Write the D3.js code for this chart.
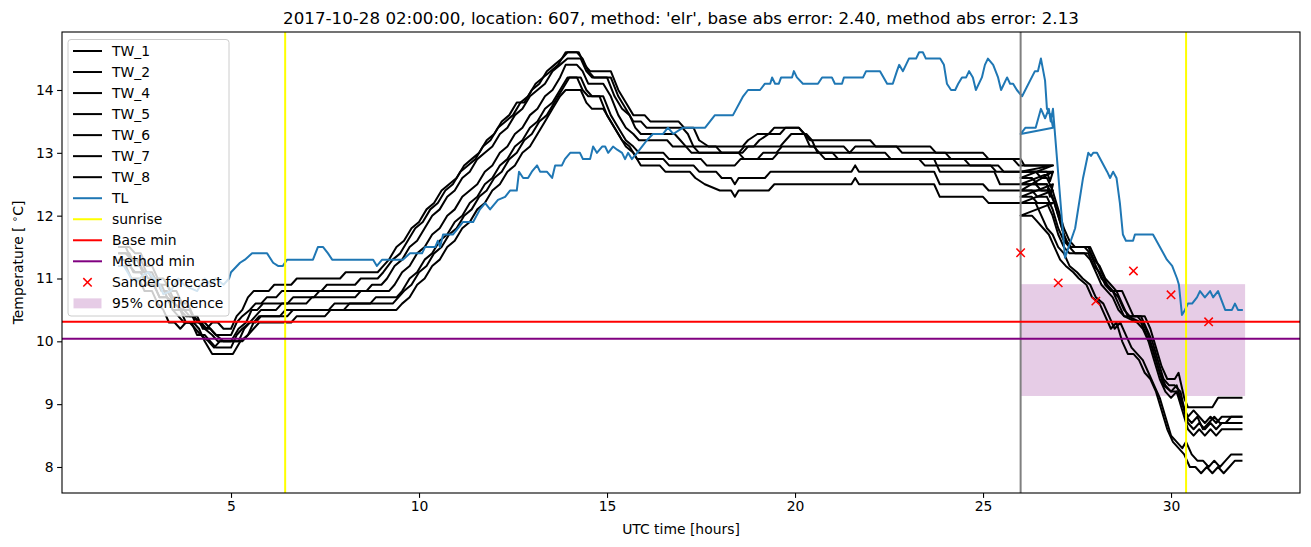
<!DOCTYPE html>
<html><head><meta charset="utf-8">
<script src="https://cdn.jsdelivr.net/npm/d3@7"></script>
<style>body{margin:0;background:#fff}svg{display:block;font-family:"DejaVu Sans",sans-serif}</style>
</head><body><div id="chart"></div>
<script>
// ---------------- data ----------------
const titleText = "2017-10-28 02:00:00, location: 607, method: 'elr', base abs error: 2.40, method abs error: 2.13";
const xTicks = [5, 10, 15, 20, 25, 30];
const yTicks = [8, 9, 10, 11, 12, 13, 14];
const legendLabels = ["TW_1","TW_2","TW_4","TW_5","TW_6","TW_7","TW_8","TL","sunrise","Base min","Method min","Sander forecast","95% confidence"];
const sunriseHours = [6.44, 30.40];
const forecastStart = 26.0;
const baseMin = 10.31;
const methodMin = 10.04;
const sanderHours = [26, 27, 28, 29, 30, 31];
const sanderValues = [11.41, 10.93, 10.64, 11.12, 10.74, 10.31];
const confHours = [26.0, 31.97];
const confRange = [9.13, 10.91];

const TW_1 = [[2.0,11.5],[2.2,11.5],[2.35,11.3],[2.5,11.3],[2.65,11.1],[2.8,11.1],[3.0,10.9],[3.15,10.9],[3.3,10.7],[3.5,10.6],[3.7,10.5],[3.9,10.5],[4.05,10.3],[4.2,10.3],[4.35,10.2],[4.5,10.3],[4.65,10.3],[4.8,10.2],[5.0,10.2],[5.15,10.4],[5.3,10.5],[5.45,10.7],[5.6,10.8],[6.0,10.8],[6.15,10.9],[6.6,10.9],[6.75,11.0],[7.9,11.0],[8.05,11.1],[8.9,11.1],[9.05,11.2],[9.2,11.3],[9.4,11.5],[9.6,11.6],[9.8,11.8],[10.0,11.9],[10.2,12.1],[10.4,12.2],[10.6,12.4],[10.8,12.5],[11.0,12.6],[11.2,12.8],[11.4,12.9],[11.6,13.0],[11.8,13.2],[12.0,13.3],[12.2,13.5],[12.4,13.6],[12.6,13.8],[12.8,13.8],[13.0,14.0],[13.2,14.1],[13.4,14.3],[13.6,14.4],[13.8,14.5],[13.95,14.6],[14.25,14.6],[14.4,14.4],[14.55,14.3],[15.1,14.3],[15.3,14.0],[15.5,13.8],[15.7,13.6],[16.0,13.6],[16.15,13.5],[16.9,13.5],[17.05,13.4],[17.3,13.4],[17.45,13.2],[17.7,13.1],[18.6,13.1],[18.75,13.2],[19.0,13.3],[19.6,13.3],[19.75,13.4],[20.1,13.4],[20.25,13.3],[20.4,13.2],[22.0,13.2],[22.15,13.1],[23.6,13.1],[23.75,13.0],[25.0,13.0],[25.15,12.9],[26.0,12.9],[26.1,12.8],[26.86,12.8],
 [26.0,12.7],[26.4,12.7],[26.55,12.6],[26.7,12.6],[26.85,12.4],[27.0,12.1],[27.15,11.8],[27.3,11.6],[27.45,11.5],[27.8,11.5],[27.95,11.3],[28.1,11.2],[28.25,11.0],[28.4,10.9],[28.55,10.8],[28.7,10.8],[28.85,10.6],[29.0,10.4],[29.3,10.4],[29.45,10.2],[29.6,9.9],[29.75,9.6],[29.9,9.4],[30.1,9.4],[30.2,9.5],[30.35,9.1],[30.45,8.95],[31.1,8.95],[31.25,9.1],[31.9,9.1]];
const TW_2 = [[2.0,11.5],[2.3,11.5],[2.45,11.4],[2.6,11.4],[2.75,11.2],[2.9,11.2],[3.05,11.0],[3.2,11.0],[3.4,10.8],[3.55,10.8],[3.7,10.6],[3.85,10.6],[4.0,10.4],[4.15,10.3],[4.3,10.3],[4.45,10.2],[4.6,10.1],[5.0,10.1],[5.15,10.3],[5.3,10.4],[5.5,10.5],[5.65,10.6],[5.8,10.6],[5.95,10.7],[6.2,10.7],[6.35,10.8],[7.4,10.8],[7.55,10.9],[8.3,10.9],[8.45,11.0],[8.9,11.0],[9.05,11.1],[9.3,11.3],[9.5,11.4],[9.7,11.6],[9.9,11.8],[10.1,11.9],[10.3,12.1],[10.5,12.2],[10.7,12.4],[10.9,12.5],[11.1,12.7],[11.3,12.8],[11.5,12.9],[11.7,13.1],[11.9,13.2],[12.1,13.4],[12.3,13.5],[12.5,13.6],[12.7,13.8],[12.9,13.9],[13.1,14.1],[13.3,14.2],[13.5,14.3],[13.7,14.4],[13.9,14.6],[14.2,14.6],[14.35,14.5],[14.5,14.3],[14.65,14.2],[15.1,14.2],[15.3,13.9],[15.5,13.7],[15.7,13.5],[15.9,13.5],[16.05,13.4],[17.0,13.4],[17.15,13.3],[17.3,13.1],[17.45,13.0],[18.5,13.0],[18.65,13.1],[18.9,13.1],[19.05,13.2],[19.3,13.3],[19.45,13.4],[20.1,13.4],[20.25,13.3],[20.4,13.1],[21.3,13.1],[21.45,13.0],[21.6,13.1],[22.7,13.1],[22.85,13.0],[24.0,13.0],[24.15,12.9],[25.8,12.9],[25.95,12.8],[26.86,12.8],
 [26.0,12.6],[26.3,12.6],[26.45,12.5],[26.7,12.5],[26.85,12.3],[27.0,12.0],[27.15,11.7],[27.3,11.5],[27.45,11.4],[27.8,11.4],[27.95,11.2],[28.1,11.1],[28.25,10.9],[28.4,10.8],[28.55,10.8],[28.7,10.6],[28.85,10.4],[29.2,10.3],[29.35,10.1],[29.5,9.9],[29.65,9.6],[29.8,9.3],[30.0,9.2],[30.15,9.3],[30.3,9.0],[30.45,8.8],[30.6,8.9],[30.75,8.8],[30.9,8.7],[31.05,8.8],[31.2,8.7],[31.35,8.8],[31.9,8.8]];
const TW_4 = [[2.0,11.4],[2.3,11.4],[2.45,11.2],[2.6,11.2],[2.8,11.0],[3.0,11.0],[3.15,10.8],[3.3,10.8],[3.5,10.6],[3.65,10.5],[3.8,10.4],[4.0,10.4],[4.15,10.3],[4.3,10.2],[4.5,10.1],[4.65,10.0],[5.0,10.0],[5.2,10.2],[5.4,10.3],[5.55,10.5],[5.7,10.5],[5.85,10.6],[6.5,10.6],[6.65,10.7],[7.2,10.7],[7.35,10.8],[8.6,10.8],[8.75,10.9],[9.0,10.9],[9.15,11.0],[9.35,11.2],[9.55,11.3],[9.75,11.5],[9.95,11.6],[10.15,11.8],[10.35,12.0],[10.55,12.1],[10.75,12.3],[10.95,12.4],[11.15,12.6],[11.35,12.7],[11.55,12.9],[11.75,13.0],[11.95,13.1],[12.15,13.3],[12.35,13.4],[12.55,13.6],[12.75,13.7],[12.95,13.9],[13.15,14.0],[13.35,14.1],[13.55,14.3],[13.75,14.4],[13.95,14.5],[14.3,14.5],[14.45,14.3],[14.6,14.2],[15.0,14.2],[15.2,13.9],[15.4,13.7],[15.6,13.6],[15.75,13.4],[15.9,13.3],[16.8,13.3],[16.95,13.2],[17.1,13.1],[17.25,13.0],[18.6,13.0],[18.75,13.1],[19.6,13.1],[19.75,13.2],[19.9,13.3],[20.3,13.3],[20.45,13.2],[20.6,13.0],[22.4,13.0],[22.55,12.9],[24.5,12.9],[24.65,12.8],[25.4,12.8],[25.55,12.7],[26.7,12.7],[26.78,12.55],[26.86,12.7],
 [26.0,12.5],[26.4,12.5],[26.55,12.4],[26.75,12.4],[26.9,12.2],[27.05,11.9],[27.2,11.6],[27.35,11.5],[27.85,11.5],[28.0,11.3],[28.15,11.1],[28.3,10.9],[28.45,10.8],[28.6,10.7],[28.75,10.5],[28.9,10.4],[29.2,10.4],[29.35,10.2],[29.5,10.0],[29.65,9.7],[29.8,9.4],[29.95,9.3],[30.1,9.3],[30.25,9.2],[30.4,8.8],[30.55,8.7],[30.7,8.8],[30.85,8.6],[31.0,8.7],[31.15,8.8],[31.3,8.7],[31.45,8.7],[31.6,8.8],[31.9,8.8]];
const TW_5 = [[2.0,11.4],[2.2,11.4],[2.35,11.3],[2.6,11.3],[2.75,11.1],[2.9,11.1],[3.05,10.9],[3.3,10.9],[3.45,10.7],[3.6,10.7],[3.75,10.5],[3.9,10.4],[4.1,10.4],[4.25,10.2],[4.45,10.2],[4.6,10.1],[4.8,10.0],[5.2,10.0],[5.35,10.2],[5.5,10.3],[5.65,10.4],[5.8,10.5],[6.2,10.5],[6.35,10.6],[7.0,10.6],[7.15,10.7],[8.3,10.7],[8.45,10.8],[9.2,10.8],[9.35,10.9],[9.55,11.1],[9.75,11.2],[9.95,11.4],[10.15,11.5],[10.35,11.7],[10.55,11.8],[10.75,12.0],[10.95,12.1],[11.15,12.3],[11.35,12.4],[11.55,12.5],[11.75,12.7],[11.95,12.8],[12.15,13.0],[12.35,13.1],[12.55,13.3],[12.75,13.4],[12.95,13.6],[13.15,13.7],[13.35,13.9],[13.55,14.0],[13.75,14.2],[13.9,14.4],[14.2,14.4],[14.35,14.3],[14.5,14.1],[14.9,14.1],[15.1,13.9],[15.3,13.6],[15.5,13.4],[15.7,13.3],[15.85,13.2],[16.6,13.2],[16.75,13.1],[17.9,13.1],[18.05,13.0],[18.5,13.0],[18.65,12.9],[19.0,12.9],[19.15,13.0],[19.5,13.0],[19.65,13.1],[20.5,13.1],[20.65,13.0],[20.8,12.9],[23.3,12.9],[23.45,12.8],[25.2,12.8],[25.35,12.7],[26.86,12.7],
 [26.0,12.4],[26.3,12.4],[26.45,12.3],[26.7,12.3],[26.85,12.1],[27.0,11.8],[27.15,11.6],[27.3,11.5],[27.7,11.5],[27.85,11.4],[28.0,11.2],[28.15,11.0],[28.3,10.9],[28.45,10.8],[28.6,10.6],[28.75,10.4],[29.1,10.4],[29.25,10.3],[29.4,10.1],[29.55,9.8],[29.7,9.5],[29.85,9.3],[30.0,9.2],[30.15,9.2],[30.3,9.0],[30.45,8.7],[30.6,8.6],[30.75,8.7],[30.9,8.6],[31.05,8.7],[31.2,8.6],[31.35,8.7],[31.9,8.7]];
const TW_6 = [[2.0,11.3],[2.25,11.3],[2.4,11.1],[2.6,11.1],[2.75,10.9],[2.95,10.9],[3.1,10.7],[3.3,10.7],[3.45,10.5],[3.6,10.4],[3.75,10.3],[3.9,10.3],[4.05,10.2],[4.2,10.1],[4.4,10.0],[4.55,9.9],[4.7,10.0],[5.3,10.0],[5.45,10.1],[5.6,10.3],[5.75,10.4],[6.3,10.4],[6.45,10.5],[7.6,10.5],[7.75,10.6],[8.7,10.6],[8.85,10.7],[9.4,10.7],[9.55,10.8],[9.75,11.0],[9.95,11.1],[10.15,11.3],[10.35,11.4],[10.55,11.6],[10.75,11.7],[10.95,11.9],[11.15,12.0],[11.35,12.2],[11.55,12.3],[11.75,12.5],[11.95,12.6],[12.15,12.8],[12.35,12.9],[12.55,13.1],[12.75,13.2],[12.95,13.4],[13.15,13.5],[13.35,13.7],[13.55,13.8],[13.75,14.0],[13.95,14.2],[14.3,14.2],[14.45,14.0],[14.6,13.9],[14.9,13.9],[15.1,13.6],[15.3,13.4],[15.5,13.2],[15.7,13.1],[15.85,13.0],[16.5,13.0],[16.65,12.9],[17.5,12.9],[17.65,12.8],[18.4,12.8],[18.55,12.9],[19.4,12.9],[19.55,13.0],[21.0,13.0],[21.15,12.9],[23.7,12.9],[23.85,12.7],[25.3,12.7],[25.45,12.5],[26.7,12.5],[26.78,12.3],[26.86,12.5],
 [26.0,12.3],[26.3,12.3],[26.45,12.2],[26.7,12.2],[26.85,12.0],[27.0,11.7],[27.15,11.5],[27.3,11.4],[27.7,11.4],[27.85,11.3],[28.0,11.1],[28.15,10.9],[28.3,10.8],[28.45,10.7],[28.6,10.5],[28.75,10.4],[29.1,10.3],[29.25,10.2],[29.4,10.0],[29.55,9.7],[29.7,9.4],[29.85,9.2],[30.0,9.1],[30.15,9.2],[30.3,8.9],[30.45,8.6],[30.6,8.5],[30.75,8.6],[30.9,8.5],[31.05,8.6],[31.2,8.5],[31.35,8.6],[31.9,8.6]];
const TW_7 = [[2.0,11.2],[2.2,11.2],[2.35,11.0],[2.55,11.0],[2.7,10.8],[2.9,10.8],[3.05,10.6],[3.2,10.5],[3.35,10.3],[3.5,10.3],[3.65,10.2],[3.8,10.3],[3.95,10.3],[4.1,10.1],[4.3,10.1],[4.45,10.0],[4.6,9.9],[5.0,9.9],[5.15,10.1],[5.3,10.2],[5.5,10.3],[5.65,10.3],[5.8,10.4],[6.5,10.4],[6.65,10.5],[8.0,10.5],[8.15,10.6],[9.3,10.6],[9.45,10.7],[9.6,10.8],[9.8,10.9],[10.0,11.1],[10.2,11.2],[10.4,11.4],[10.6,11.5],[10.8,11.7],[11.0,11.8],[11.2,12.0],[11.4,12.1],[11.6,12.3],[11.8,12.4],[12.0,12.6],[12.2,12.7],[12.4,12.9],[12.6,13.0],[12.8,13.2],[13.0,13.3],[13.2,13.5],[13.4,13.6],[13.6,13.8],[13.8,14.0],[14.0,14.2],[14.2,14.2],[14.35,14.0],[14.5,13.9],[14.8,13.9],[15.0,13.6],[15.2,13.4],[15.4,13.2],[15.6,13.1],[15.8,12.9],[16.5,12.9],[16.65,12.8],[17.3,12.8],[17.45,12.7],[17.9,12.7],[18.05,12.6],[18.3,12.6],[18.4,12.5],[18.5,12.6],[19.2,12.6],[19.35,12.7],[21.5,12.7],[21.6,12.8],[21.7,12.7],[23.7,12.7],[23.85,12.5],[25.0,12.5],[25.15,12.4],[26.86,12.4],
 [26.0,12.2],[26.4,12.2],[26.55,12.0],[26.7,11.8],[26.85,11.7],[27.0,11.5],[27.15,11.4],[27.3,11.2],[27.5,11.1],[27.65,11.0],[27.85,10.9],[28.0,10.7],[28.2,10.6],[28.35,10.4],[28.5,10.2],[28.65,10.3],[28.8,10.1],[28.95,9.9],[29.1,9.8],[29.25,9.7],[29.4,9.5],[29.55,9.3],[29.7,9.1],[29.85,8.8],[30.0,8.5],[30.15,8.4],[30.3,8.3],[30.4,8.4],[30.55,8.2],[30.7,8.1],[30.85,8.1],[31.0,8.0],[31.15,8.1],[31.3,8.0],[31.45,8.1],[31.6,8.2],[31.9,8.2]];
const TW_8 = [[2.0,11.2],[2.3,11.2],[2.45,11.1],[2.6,11.1],[2.75,10.9],[2.95,10.9],[3.1,10.7],[3.3,10.7],[3.45,10.5],[3.65,10.5],[3.8,10.3],[4.0,10.3],[4.15,10.2],[4.3,10.0],[4.5,9.8],[5.05,9.8],[5.25,10.0],[5.45,10.1],[5.6,10.2],[5.75,10.3],[6.6,10.3],[6.75,10.4],[7.5,10.4],[7.65,10.5],[9.4,10.5],[9.55,10.6],[9.75,10.7],[9.95,10.9],[10.15,11.0],[10.35,11.2],[10.55,11.3],[10.75,11.5],[10.95,11.6],[11.15,11.8],[11.35,11.9],[11.55,12.1],[11.75,12.2],[11.95,12.4],[12.15,12.5],[12.35,12.7],[12.55,12.8],[12.75,13.0],[12.95,13.1],[13.15,13.3],[13.35,13.5],[13.55,13.7],[13.75,13.9],[13.9,14.0],[14.3,14.0],[14.45,13.8],[14.6,13.7],[14.9,13.7],[15.1,13.5],[15.3,13.3],[15.5,13.1],[15.7,13.0],[15.9,12.8],[16.4,12.8],[16.55,12.7],[17.2,12.7],[17.35,12.6],[17.6,12.5],[18.0,12.4],[18.3,12.4],[18.4,12.3],[18.5,12.4],[19.3,12.4],[19.45,12.5],[21.5,12.5],[21.6,12.6],[21.7,12.5],[23.7,12.5],[23.85,12.3],[25.0,12.3],[25.15,12.2],[26.86,12.2],
 [26.0,12.0],[26.3,12.0],[26.45,11.9],[26.6,11.8],[26.75,11.7],[26.9,11.5],[27.05,11.3],[27.2,11.2],[27.4,11.1],[27.55,11.0],[27.75,10.9],[27.9,10.7],[28.1,10.6],[28.25,10.4],[28.4,10.2],[28.55,10.3],[28.7,10.0],[28.85,9.8],[29.0,9.8],[29.15,9.7],[29.3,9.5],[29.45,9.4],[29.6,9.2],[29.75,8.9],[29.9,8.6],[30.05,8.4],[30.2,8.3],[30.35,8.2],[30.5,8.0],[30.65,8.0],[30.8,7.9],[30.95,8.0],[31.1,7.9],[31.25,8.0],[31.4,7.9],[31.55,8.0],[31.7,8.1],[31.9,8.1]];
const TL = [[2.0,11.2],[2.15,11.2],[2.35,11.0],[2.5,10.95],[2.65,11.05],[2.8,11.1],[2.95,11.0],[3.1,10.9],[3.2,10.75],[3.4,10.8],[3.6,11.0],[3.75,10.9],[3.9,10.85],[4.1,10.8],[4.3,11.0],[4.45,10.9],[4.6,11.0],[4.8,10.9],[4.95,11.0],[5.0,11.1],[5.24,11.25],[5.37,11.3],[5.56,11.4],[5.96,11.4],[6.12,11.25],[6.25,11.2],[6.38,11.2],[6.49,11.3],[7.18,11.3],[7.31,11.5],[7.45,11.5],[7.58,11.4],[7.69,11.3],[8.78,11.3],[8.88,11.2],[9.02,11.3],[9.57,11.3],[9.76,11.4],[10.08,11.4],[10.16,11.5],[10.43,11.5],[10.5,11.6],[10.56,11.5],[10.64,11.7],[10.9,11.7],[11.04,11.8],[11.17,11.9],[11.44,11.9],[11.62,12.1],[11.76,12.2],[11.89,12.1],[12.1,12.25],[12.29,12.3],[12.42,12.4],[12.6,12.4],[12.66,12.7],[12.77,12.6],[12.9,12.6],[13.0,12.7],[13.14,12.8],[13.22,12.7],[13.4,12.7],[13.54,12.6],[13.62,12.8],[13.8,12.8],[13.88,12.9],[14.02,13.0],[14.28,13.0],[14.36,12.9],[14.55,12.9],[14.63,13.1],[14.73,13.0],[14.87,13.1],[14.95,13.1],[15.03,13.0],[15.16,13.1],[15.27,13.05],[15.4,13.0],[15.48,12.9],[15.56,13.0],[15.66,12.9],[15.8,13.0],[15.93,13.1],[16.06,13.2],[16.22,13.3],[16.49,13.3],[16.62,13.4],[16.76,13.3],[17.02,13.4],[17.61,13.4],[17.74,13.5],[17.87,13.6],[18.35,13.6],[18.62,13.9],[18.75,14.0],[19.07,14.0],[19.2,14.1],[19.34,14.1],[19.39,14.2],[19.47,14.1],[19.57,14.1],[19.63,14.2],[19.92,14.2],[19.97,14.3],[20.05,14.2],[20.21,14.1],[20.61,14.1],[20.72,14.2],[20.98,14.2],[21.06,14.1],[21.25,14.1],[21.3,14.2],[21.81,14.2],[21.89,14.3],[22.26,14.3],[22.45,14.1],[22.6,14.1],[22.71,14.3],[22.77,14.4],[22.87,14.3],[23.03,14.5],[23.22,14.5],[23.3,14.6],[23.4,14.6],[23.48,14.5],[23.86,14.5],[23.96,14.4],[24.04,14.1],[24.15,14.0],[24.26,14.0],[24.34,14.1],[24.44,14.2],[24.55,14.2],[24.63,14.3],[24.73,14.2],[24.81,14.0],[24.97,14.2],[25.05,14.4],[25.13,14.5],[25.27,14.4],[25.4,14.2],[25.48,14.0],[25.64,14.2],[25.72,14.1],[25.8,14.1],[25.9,14.0],[26.04,13.9],[26.38,14.3],[26.46,14.3],[26.54,14.5],[26.65,14.15],[26.7,13.7],[26.8,13.6],[26.86,13.4],
 [26.0,13.3],[26.13,13.4],[26.4,13.4],[26.54,13.7],[26.65,13.55],[26.75,13.7],[26.8,13.5],[26.86,13.7],[27.18,11.33],[27.45,11.8],[27.66,12.6],[27.8,13.0],[27.87,12.95],[27.93,13.0],[28.03,13.0],[28.3,12.7],[28.38,12.6],[28.46,12.7],[28.55,12.6],[28.64,12.2],[28.72,11.7],[28.8,11.6],[28.99,11.6],[29.04,11.7],[29.52,11.7],[29.89,11.3],[30.03,11.2],[30.16,11.0],[30.21,10.9],[30.29,10.42],[30.37,10.5],[30.45,10.6],[30.56,10.6],[30.69,10.7],[30.77,10.8],[30.9,10.7],[31.04,10.8],[31.12,10.7],[31.25,10.8],[31.44,10.5],[31.62,10.5],[31.7,10.6],[31.78,10.5],[31.91,10.5]];

const twSeries = [TW_1, TW_2, TW_4, TW_5, TW_6, TW_7, TW_8];

// ---------------- layout ----------------
const W = 1311, H = 547;
const m = {left: 62, right: 1300, top: 32, bottom: 493};
const x = d3.scaleLinear().domain([0.505, 33.43]).range([m.left, m.right]);
const y = d3.scaleLinear().domain([7.586, 14.923]).range([m.bottom, m.top]);

const svg = d3.select("#chart").append("svg").attr("width", W).attr("height", H);
svg.append("defs").append("clipPath").attr("id", "clip")
  .append("rect").attr("x", m.left).attr("y", m.top).attr("width", m.right - m.left).attr("height", m.bottom - m.top);
const plot = svg.append("g").attr("clip-path", "url(#clip)");

// confidence band
plot.append("rect")
  .attr("x", x(confHours[0])).attr("width", x(confHours[1]) - x(confHours[0]))
  .attr("y", y(confRange[1])).attr("height", y(confRange[0]) - y(confRange[1]))
  .attr("fill", "#800080").attr("fill-opacity", 0.2);

const line = d3.line().x(d => x(d[0])).y(d => y(d[1]));
twSeries.forEach(s => {
  plot.append("path").datum(s).attr("d", line).attr("fill", "none")
    .attr("stroke", "#000").attr("stroke-width", 2).attr("stroke-linejoin", "round");
});
plot.append("path").datum(TL).attr("d", line).attr("fill", "none")
  .attr("stroke", "#1f77b4").attr("stroke-width", 2).attr("stroke-linejoin", "round");

// vertical lines
plot.append("line").attr("x1", x(forecastStart)).attr("x2", x(forecastStart))
  .attr("y1", m.top).attr("y2", m.bottom).attr("stroke", "#808080").attr("stroke-width", 2);
sunriseHours.forEach(h => {
  plot.append("line").attr("x1", x(h)).attr("x2", x(h)).attr("y1", m.top).attr("y2", m.bottom)
    .attr("stroke", "#ffff00").attr("stroke-width", 2);
});
// horizontal lines
plot.append("line").attr("x1", m.left).attr("x2", m.right).attr("y1", y(baseMin)).attr("y2", y(baseMin))
  .attr("stroke", "#ff0000").attr("stroke-width", 2);
plot.append("line").attr("x1", m.left).attr("x2", m.right).attr("y1", y(methodMin)).attr("y2", y(methodMin))
  .attr("stroke", "#800080").attr("stroke-width", 2);

// sander forecast markers
const xm = (g, cx, cy, r) => {
  g.append("path").attr("d", `M${cx - r},${cy - r}L${cx + r},${cy + r}M${cx - r},${cy + r}L${cx + r},${cy - r}`)
    .attr("stroke", "#ff0000").attr("stroke-width", 1.5).attr("fill", "none");
};
sanderHours.forEach((h, i) => xm(plot, x(h), y(sanderValues[i]), 4.2));

// ---------------- axes ----------------
const fontPx = 13.9;
const ax = svg.append("g").attr("transform", `translate(0,${m.bottom})`)
  .call(d3.axisBottom(x).tickValues(xTicks).tickFormat(d3.format("d")).tickSize(4.9).tickPadding(3.5));
const ay = svg.append("g").attr("transform", `translate(${m.left},0)`)
  .call(d3.axisLeft(y).tickValues(yTicks).tickFormat(d3.format("d")).tickSize(4.9).tickPadding(3.5));
[ax, ay].forEach(a => {
  a.select(".domain").remove();
  a.selectAll(".tick line").attr("stroke", "#000").attr("stroke-width", 1.1);
  a.selectAll(".tick text").attr("fill", "#000").style("font-size", fontPx + "px").style("font-family", "DejaVu Sans");
});
svg.append("rect").attr("x", m.left).attr("y", m.top).attr("width", m.right - m.left).attr("height", m.bottom - m.top)
  .attr("fill", "none").attr("stroke", "#000").attr("stroke-width", 1.1);

// title and labels
svg.append("text").attr("x", (m.left + m.right) / 2).attr("y", 24).attr("text-anchor", "middle")
  .style("font-size", "16.7px").text(titleText);
svg.append("text").attr("x", (m.left + m.right) / 2).attr("y", 534).attr("text-anchor", "middle")
  .style("font-size", fontPx + "px").text("UTC time [hours]");
const yl = svg.append("text").attr("transform", `translate(23,${(m.top + m.bottom) / 2}) rotate(-90)`)
  .attr("text-anchor", "middle").style("font-size", fontPx + "px");
yl.append("tspan").text("Temperature [ ");
yl.append("tspan").attr("dy", -5).style("font-size", "10px").text("∘");
yl.append("tspan").attr("dy", 5).text("C]");

// ---------------- legend ----------------
const lg = svg.append("g");
lg.append("rect").attr("x", 68).attr("y", 39.5).attr("width", 161).attr("height", 276.5).attr("rx", 3)
  .attr("fill", "#fff").attr("fill-opacity", 0.8).attr("stroke", "#cccccc").attr("stroke-width", 1);
const rowY = i => 51 + i * 21.03;
legendLabels.forEach((lab, i) => {
  const yy = rowY(i);
  if (i < 7) {
    lg.append("line").attr("x1", 73).attr("x2", 102).attr("y1", yy).attr("y2", yy).attr("stroke", "#000").attr("stroke-width", 2);
  } else if (i === 7) {
    lg.append("line").attr("x1", 73).attr("x2", 102).attr("y1", yy).attr("y2", yy).attr("stroke", "#1f77b4").attr("stroke-width", 2);
  } else if (i === 8) {
    lg.append("line").attr("x1", 73).attr("x2", 102).attr("y1", yy).attr("y2", yy).attr("stroke", "#ffff00").attr("stroke-width", 2);
  } else if (i === 9) {
    lg.append("line").attr("x1", 73).attr("x2", 102).attr("y1", yy).attr("y2", yy).attr("stroke", "#ff0000").attr("stroke-width", 2);
  } else if (i === 10) {
    lg.append("line").attr("x1", 73).attr("x2", 102).attr("y1", yy).attr("y2", yy).attr("stroke", "#800080").attr("stroke-width", 2);
  } else if (i === 11) {
    xm(lg, 87.5, yy, 4.2);
  } else {
    lg.append("rect").attr("x", 73.5).attr("y", yy - 5).attr("width", 28).attr("height", 10)
      .attr("fill", "#800080").attr("fill-opacity", 0.2);
  }
  lg.append("text").attr("x", 112).attr("y", yy + 5).style("font-size", fontPx + "px").text(lab);
});
</script>
</body></html>
